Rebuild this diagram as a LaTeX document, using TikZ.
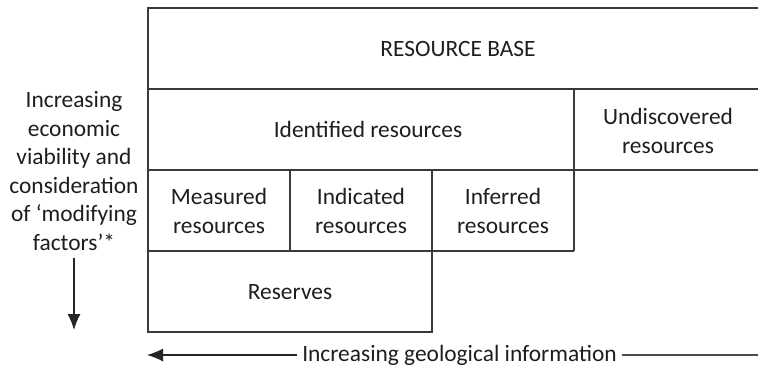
\documentclass[tikz,border=0pt]{standalone}
\usepackage{fontspec}
\setmainfont{Carlito}
\usetikzlibrary{arrows.meta}
\definecolor{linec}{HTML}{3A3A3A}
\definecolor{textc}{HTML}{1E1E1E}
\begin{document}
\begin{tikzpicture}[x=1bp,y=-1bp,
  grid/.style={draw=linec,line width=1.3bp},
  lbl/.style={text=textc,font=\fontsize{23.4bp}{28.5bp}\selectfont,align=center,inner sep=0pt},
  arr/.style={draw=black!85,line width=1.2bp,-{Latex[length=16bp,width=13bp]}},
  plain/.style={draw=black!70,line width=1.1bp}]
\useasboundingbox (0,0) rectangle (758,371);
% grid lines
\draw[grid] (758,8) -- (148,8) -- (148,332) -- (432,332) -- (432,170);
\draw[grid] (148,89) -- (758,89);
\draw[grid] (148,170) -- (758,170);
\draw[grid] (148,251) -- (574,251);
\draw[grid] (574,89) -- (574,251);
\draw[grid] (290,170) -- (290,251);
% labels
\node[lbl] (base) at (458,49) {RESOURCE BASE};
\node[lbl] (ident) at (368,129) {Identified resources};
\node[lbl] (undisc) at (668,131) {Undiscovered\\resources};
\node[lbl] (meas) at (219,211) {Measured\\resources};
\node[lbl] (indic) at (361,211) {Indicated\\resources};
\node[lbl] (infer) at (503,211) {Inferred\\resources};
\node[lbl] (res) at (290,292) {Reserves};
\node[lbl] (econ) at (74,171) {Increasing\\economic\\viability and\\consideration\\of ‘modifying\\factors’*};
\coordinate (econtip) at (74,330);
\path[arr] (74,258) -- (econtip);
\node[lbl,inner xsep=5bp] (geo) at (459.5,355) {Increasing geological information};
\coordinate (geotip) at (147,355);
\coordinate (geoend) at (758,355);
\path[arr] (geo.west) -- (geotip);
\path[plain] (geo.east) -- (geoend);
\end{tikzpicture}
\end{document}
